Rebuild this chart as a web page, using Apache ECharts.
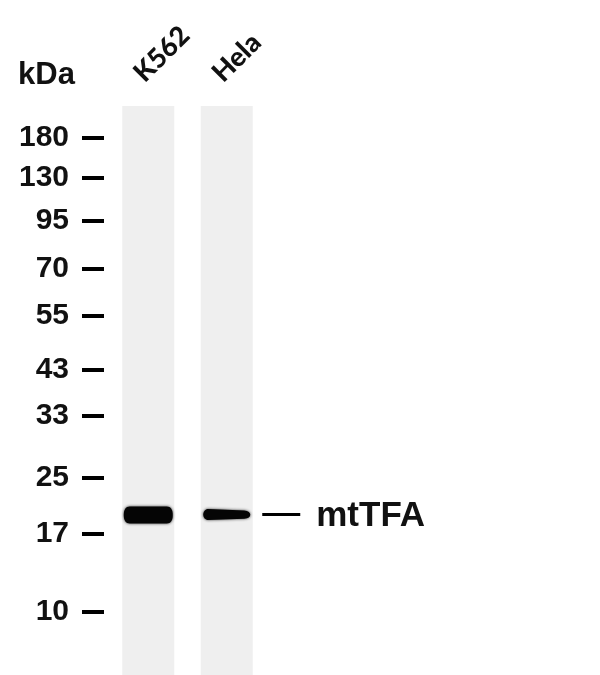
<!DOCTYPE html>
<html><head><meta charset="utf-8">
<script src="https://cdn.jsdelivr.net/npm/echarts@6/dist/echarts.min.js"></script>
<style>html,body{margin:0;padding:0;background:#fff}#c{width:600px;height:675px}</style>
</head><body><div id="c"></div>
<script>
// Lanes (samples)
const lanes = ['K562', 'Hela'];
// Molecular weight marker ladder (kDa) and their relative migration (Rf, 0 = lane top, 1 = lane bottom)
const markerKDa = ['180', '130', '95', '70', '55', '43', '33', '25', '17', '10'];
const markerRf  = [0.0560, 0.1260, 0.2010, 0.2865, 0.3691, 0.4640, 0.5448, 0.6538, 0.7522, 0.8893];
// Detected band (mtTFA) relative migration per lane
const bandName = 'mtTFA';
const bandRf = [0.7188, 0.7180];

const chart = echarts.init(document.getElementById('c'), null, {renderer: 'canvas'});
const k562Path = 'path://M6,0 L43,0 C47,0 49,3 49,8.5 C49,14 47,17 43,17 L6,17 C2,17 0,14 0,8.5 C0,3 2,0 6,0 Z';
const helaPath = 'path://M5,0 L41,1.5 C45,1.8 47,3.5 47,5.8 C47,8 45,9.6 41,9.8 L5,11 C2,11 0,8.5 0,5.5 C0,2.5 2,0 5,0 Z';

chart.setOption({
  backgroundColor: '#ffffff',
  animation: false,
  title: {
    text: 'kDa', left: 13, top: 55,
    textStyle: {fontFamily: 'Liberation Sans', fontWeight: 'bold', fontSize: 31, color: '#111'}
  },
  grid: {left: 109, width: 157, top: 106, bottom: 0, containLabel: false},
  xAxis: {
    type: 'category', data: lanes, position: 'top',
    axisLine: {show: false}, axisTick: {show: false}, splitLine: {show: false},
    axisLabel: {
      rotate: 45, margin: 19, interval: 0, verticalAlign: 'bottom',
      fontFamily: 'Lato', fontWeight: 900, fontSize: 27, color: '#111'
    }
  },
  yAxis: {
    type: 'value', min: 0, max: 1, inverse: true, offset: 5,
    axisLine: {show: false}, splitLine: {show: false},
    axisTick: {show: true, customValues: markerRf, length: 22, inside: false,
      lineStyle: {color: '#000', width: 4}},
    axisLabel: {
      customValues: markerRf, margin: 35,
      fontFamily: 'Liberation Sans', fontWeight: 'bold', fontSize: 30, color: '#111',
      formatter: function (v) {
        let best = 0;
        for (let i = 0; i < markerRf.length; i++) {
          if (Math.abs(markerRf[i] - v) < Math.abs(markerRf[best] - v)) best = i;
        }
        return markerKDa[best];
      }
    }
  },
  series: [
    {
      type: 'bar', data: lanes.map(() => 1), barWidth: 52, silent: true,
      itemStyle: {color: '#efefef'}, z: 1
    },
    {
      type: 'scatter', z: 3, silent: true,
      data: [
        {value: [lanes[0], bandRf[0]], symbol: k562Path, symbolSize: [49, 17]},
        {value: [lanes[1], bandRf[1]], symbol: helaPath, symbolSize: [47, 11],
          label: {
            show: true, position: 'right', distance: 12,
            formatter: '{l| }{t|' + bandName + '}',
            rich: {
              l: {width: 38, height: 3, backgroundColor: '#000', fontSize: 3, verticalAlign: 'middle'},
              t: {fontFamily: 'Liberation Sans', fontWeight: 'bold', fontSize: 35, color: '#111',
                  padding: [4, 0, 0, 16], verticalAlign: 'middle'}
            }
          }
        }
      ],
      itemStyle: {color: '#050505', shadowBlur: 3, shadowColor: 'rgba(0,0,0,0.8)', opacity: 1}
    }
  ]
});
</script></body></html>
